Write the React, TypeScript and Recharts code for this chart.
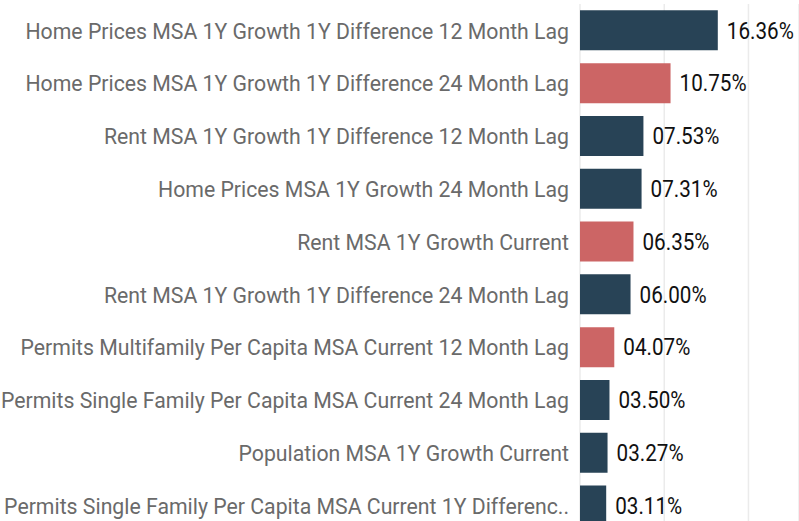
import { Bar, BarChart, CartesianGrid, Cell, LabelList, XAxis, YAxis } from "recharts";

const categories = [
  "Home Prices MSA 1Y Growth 1Y Difference 12 Month Lag",
  "Home Prices MSA 1Y Growth 1Y Difference 24 Month Lag",
  "Rent MSA 1Y Growth 1Y Difference 12 Month Lag",
  "Home Prices MSA 1Y Growth 24 Month Lag",
  "Rent MSA 1Y Growth Current",
  "Rent MSA 1Y Growth 1Y Difference 24 Month Lag",
  "Permits Multifamily Per Capita MSA Current 12 Month Lag",
  "Permits Single Family Per Capita MSA Current 24 Month Lag",
  "Population MSA 1Y Growth Current",
  "Permits Single Family Per Capita MSA Current 1Y Differenc..",
];

const values = [16.36, 10.75, 7.53, 7.31, 6.35, 6.0, 4.07, 3.5, 3.27, 3.11];

// which rows are highlighted in red
const highlighted = [false, true, false, false, true, false, true, false, false, false];

const xTicks = [0, 10, 20];

const NAVY = "#284356";
const RED = "#cc6565";

const data = categories.map((name, i) => ({ name, value: values[i], hot: highlighted[i] }));

const fmt = (v: any) => `${Number(v).toFixed(2).padStart(5, "0")}%`;

// the source font is a touch narrower than Roboto, squeeze it horizontally
const CategoryTick = ({ x, y, payload }: any) => (
  <g transform={`translate(${x},${y}) scale(0.945,1)`}>
    <text x={0} y={0} dy="0.36em" textAnchor="end" fill="#6a6a6a" fontSize={22.5}>
      {payload.value}
    </text>
  </g>
);

const ValueLabel = ({ x, y, width, height, value }: any) => (
  <g transform={`translate(${x + width + 9},${y + height / 2}) scale(0.89,1)`}>
    <text x={0} y={0} dy="0.36em" textAnchor="start" fill="#111" fontSize={23.2}>
      {fmt(value)}
    </text>
  </g>
);

export default function App() {
  return (
    <div style={{ position: "absolute", left: 0, top: 0, width: 799, height: 521, overflow: "hidden", background: "#fff" }}>
      <BarChart
        layout="vertical"
        width={799}
        height={532}
        data={data}
        margin={{ top: 4, right: 0, bottom: 0, left: 0 }}
        barCategoryGap="12%"
        style={{ fontFamily: "Roboto, sans-serif" }}
      >
        <CartesianGrid horizontal={false} stroke="#ebebeb" strokeWidth={1.5} />
        <XAxis type="number" domain={[0, 26]} ticks={xTicks} hide />
        <YAxis
          type="category"
          dataKey="name"
          width={580}
          axisLine={false}
          tickLine={false}
          tickMargin={5}
          interval={0}
          tick={<CategoryTick />}
        />
        <Bar dataKey="value" isAnimationActive={false}>
          {data.map((d, i) => (
            <Cell key={i} fill={d.hot ? RED : NAVY} />
          ))}
          <LabelList dataKey="value" content={<ValueLabel />} />
        </Bar>
      </BarChart>
    </div>
  );
}
